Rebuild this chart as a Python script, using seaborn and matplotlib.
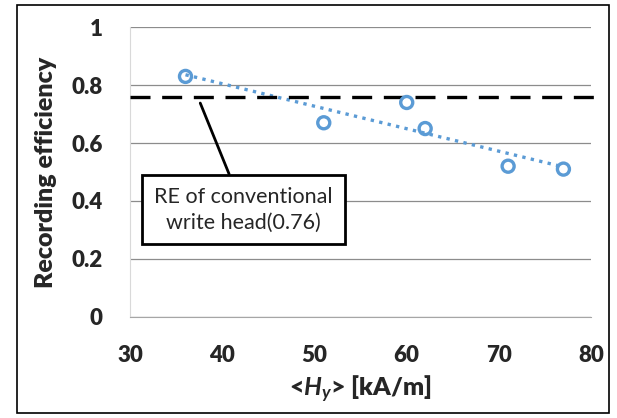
import numpy as np
import pandas as pd
import matplotlib
matplotlib.use('Agg')
import matplotlib.pyplot as plt
from matplotlib.patches import Rectangle
import seaborn as sns

# values
hy = [36, 51, 60, 62, 71, 77]
re = [0.83, 0.67, 0.74, 0.65, 0.52, 0.51]
re_conventional = 0.76
x_ticks = [30, 40, 50, 60, 70, 80]
y_ticks = [0, 0.2, 0.4, 0.6, 0.8, 1]
y_ticklabels = ['0', '0.2', '0.4', '0.6', '0.8', '1']

df = pd.DataFrame({'Hy': hy, 'RE': re})

sns.set_style('white')
plt.rcParams['font.family'] = ['Lato', 'DejaVu Sans']
plt.rcParams['mathtext.fontset'] = 'custom'
plt.rcParams['mathtext.it'] = 'Lato:italic:bold'
plt.rcParams['mathtext.rm'] = 'Lato:bold'

blue = '#5b9bd5'

fig = plt.figure(figsize=(6.17, 4.18), dpi=100)
ax = fig.add_axes([0.211, 0.242, 0.747, 0.693])

# trend line (linear fit over data range)
sns.regplot(data=df, x='Hy', y='RE', ax=ax, scatter=False, ci=None, truncate=True,
            line_kws=dict(color=blue, linestyle=(0, (1, 1.6)), linewidth=2.4))
sns.scatterplot(data=df, x='Hy', y='RE', ax=ax, s=75, marker='o',
                facecolor='none', edgecolor=blue, linewidth=2.4, zorder=5)

ax.plot([30, 81], [re_conventional, re_conventional], color='black',
        linestyle=(0, (6, 3.5)), linewidth=2.4, clip_on=False, zorder=4)

ax.set_xlim(30, 80)
ax.set_ylim(0, 1)
ax.set_xticks(x_ticks)
ax.set_yticks(y_ticks)
ax.set_yticklabels(y_ticklabels)
ax.tick_params(axis='both', length=0, labelsize=16, pad=20)
for lbl in ax.get_xticklabels() + ax.get_yticklabels():
    lbl.set_fontweight('heavy')
ax.yaxis.grid(True, color='#8c8c8c', linewidth=0.9)
ax.set_axisbelow(True)
for side in ['top', 'right']:
    ax.spines[side].set_visible(False)
ax.spines['left'].set_color('#d9d9d9')
ax.spines['bottom'].set_color('#a6a6a6')

ax.set_xlabel('<$H_y$> [kA/m]', fontsize=18, fontweight='heavy', labelpad=6)
ax.set_ylabel('Recording efficiency', fontsize=18, fontweight='heavy', labelpad=10)

ax.annotate('RE of conventional\nwrite head(0.76)', xy=(37.6, 0.738), xytext=(42.3, 0.37),
            ha='center', va='center', fontsize=15.5, linespacing=1.35,
            bbox=dict(boxstyle='square,pad=0.55', facecolor='white', edgecolor='black', linewidth=2),
            arrowprops=dict(arrowstyle='-', color='black', linewidth=2, shrinkA=0, shrinkB=0),
            zorder=6)

fig.patches.append(Rectangle((17 / 617, 5 / 418), 592 / 617, 408 / 418, transform=fig.transFigure,
                             fill=False, edgecolor='black', linewidth=1.2))

fig.savefig('out.png', dpi=100)
